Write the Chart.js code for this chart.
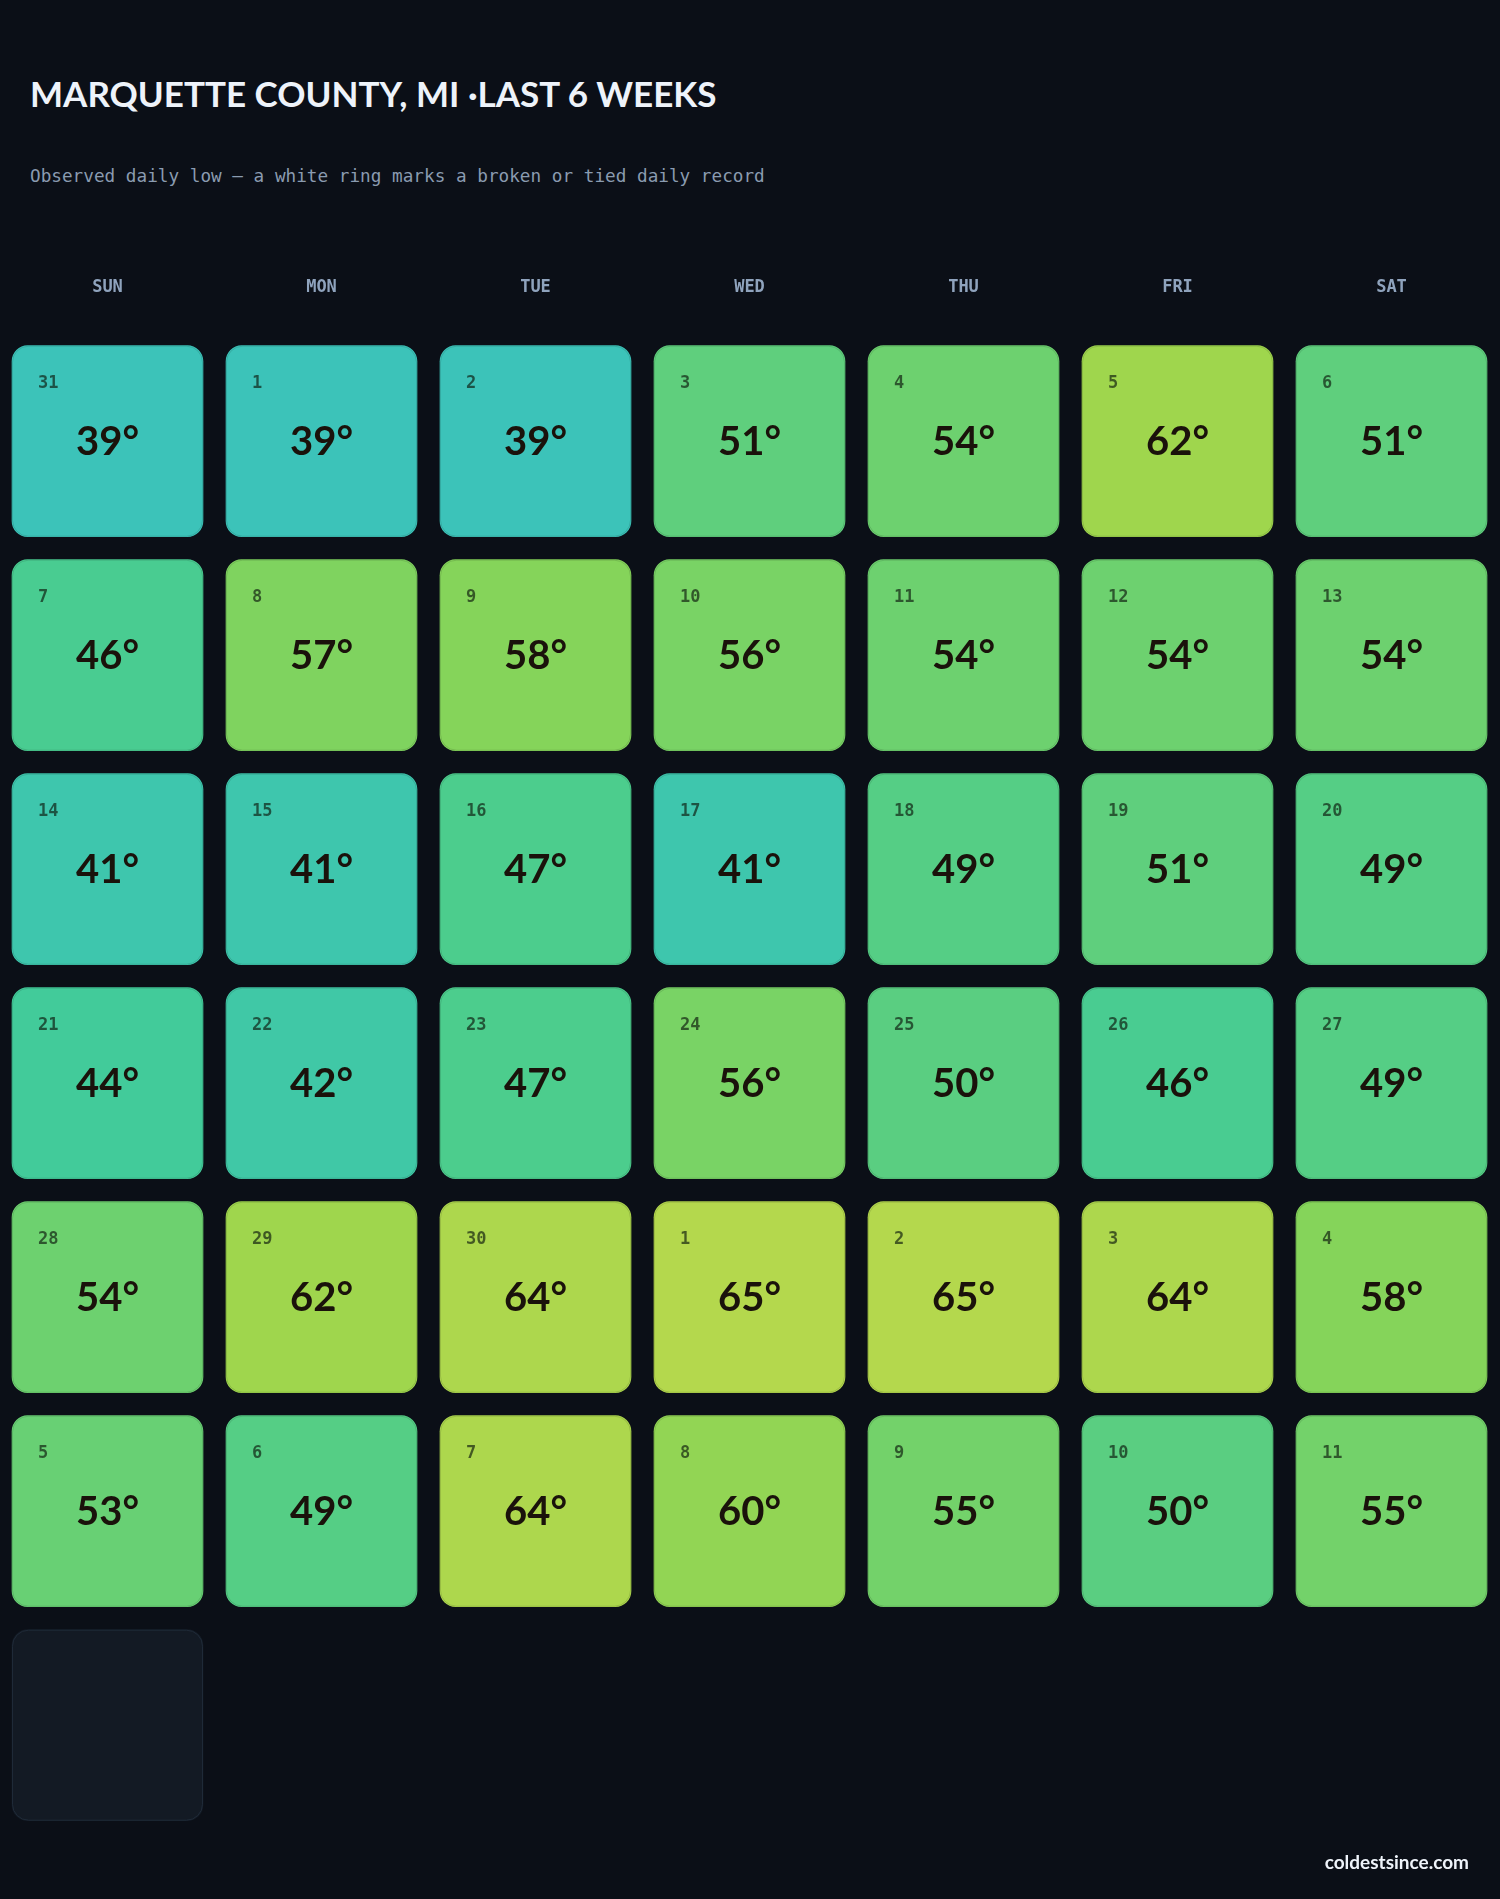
<!DOCTYPE html>
<html>
<head>
<meta charset="utf-8">
<title>Marquette County daily lows</title>
<script src="https://cdn.jsdelivr.net/npm/chart.js@4.4.1/dist/chart.umd.min.js"></script>
<style>
  html, body { margin: 0; padding: 0; background: #0b0f17; }
  body { width: 1500px; height: 1899px; position: relative; overflow: hidden; }
  #calendar { position: absolute; left: 0; top: 0; }
  .title {
    position: absolute; left: 30px; top: 76px;
    font: 700 35px Lato, sans-serif; line-height: 1;
    color: #eef3fa; white-space: nowrap;
  }
  .subtitle {
    position: absolute; left: 30px; top: 168px;
    font: 17.7px "DejaVu Sans Mono", monospace; line-height: 1;
    color: #8a9bb0; white-space: nowrap;
  }
  .footer {
    position: absolute; right: 31px; top: 1852px;
    font: 700 19px Lato, sans-serif; line-height: 1;
    color: #eef3fa; white-space: nowrap;
  }
</style>
</head>
<body>
<div class="title">MARQUETTE COUNTY, MI ·LAST 6 WEEKS</div>
<div class="subtitle">Observed daily low — a white ring marks a broken or tied daily record</div>
<canvas id="calendar" width="1500" height="1899"></canvas>
<div class="footer">coldestsince.com</div>

<script>
document.addEventListener('DOMContentLoaded', function () {
    const dayLabels = ['SUN', 'MON', 'TUE', 'WED', 'THU', 'FRI', 'SAT'];

    // one row per week, date of month
    const dayNumbers = [
        [31, 1, 2, 3, 4, 5, 6],
        [7, 8, 9, 10, 11, 12, 13],
        [14, 15, 16, 17, 18, 19, 20],
        [21, 22, 23, 24, 25, 26, 27],
        [28, 29, 30, 1, 2, 3, 4],
        [5, 6, 7, 8, 9, 10, 11]
    ];

    // observed daily low, °F
    const lowTemps = [
        [39, 39, 39, 51, 54, 62, 51],
        [46, 57, 58, 56, 54, 54, 54],
        [41, 41, 47, 41, 49, 51, 49],
        [44, 42, 47, 56, 50, 46, 49],
        [54, 62, 64, 65, 65, 64, 58],
        [53, 49, 64, 60, 55, 50, 55]
    ];

    // days with no observation yet (next row)
    const pendingDays = ['SUN'];

    // colour ramp
    const rampTemps = [39, 44, 47, 50, 54, 58, 62, 65];
    const rampColors = ['#3cc3b9', '#42cb9a', '#4ccd8d', '#5ace81', '#6dd16f', '#85d45a', '#9fd64d', '#b4d84d'];

    function hexToRgb(h) {
        return [1, 3, 5].map(i => parseInt(h.substr(i, 2), 16));
    }

    function tempColor(t) {
        if (t <= rampTemps[0]) return rampColors[0];
        for (let i = 1; i < rampTemps.length; i++) {
            if (t <= rampTemps[i]) {
                const f = (t - rampTemps[i - 1]) / (rampTemps[i] - rampTemps[i - 1]);
                const a = hexToRgb(rampColors[i - 1]);
                const b = hexToRgb(rampColors[i]);
                const c = a.map((v, k) => Math.round(v + (b[k] - v) * f));
                return `rgb(${c[0]}, ${c[1]}, ${c[2]})`;
            }
        }
        return rampColors[rampColors.length - 1];
    }

    const gap = 11.5;
    const cornerRadius = 16;

    const datasets = lowTemps.map(function (temps, w) {
        return {
            label: 'Week ' + (w + 1),
            data: temps.map((t, d) => ({ x: dayLabels[d], y: [w, w + 1], temp: t, day: dayNumbers[w][d] })),
            backgroundColor: temps.map(tempColor)
        };
    });
    datasets.push({
        label: 'Pending',
        pending: true,
        data: pendingDays.map(d => ({ x: d, y: [lowTemps.length, lowTemps.length + 1] })),
        backgroundColor: '#131a24'
    });

    const cellLabels = {
        id: 'cellLabels',
        afterDatasetsDraw(chart) {
            const ctx = chart.ctx;
            chart.data.datasets.forEach(function (ds, di) {
                const meta = chart.getDatasetMeta(di);
                meta.data.forEach(function (bar, i) {
                    const p = bar.getProps(['x', 'y', 'base', 'width'], true);
                    const left = p.x - p.width / 2 + gap;
                    const top = Math.min(p.y, p.base) + gap;
                    const w = p.width - gap * 2;
                    const h = Math.abs(p.base - p.y) - gap * 2;

                    ctx.save();
                    ctx.beginPath();
                    ctx.roundRect(left + 0.5, top + 0.5, w - 1, h - 1, cornerRadius);
                    ctx.lineWidth = 1;
                    ctx.strokeStyle = ds.pending ? '#1f2a38' : 'rgba(0, 0, 0, 0.12)';
                    ctx.stroke();

                    if (!ds.pending) {
                        const item = ds.data[i];
                        ctx.textAlign = 'left';
                        ctx.textBaseline = 'alphabetic';
                        ctx.fillStyle = 'rgba(12, 24, 12, 0.66)';
                        ctx.font = 'bold 17px "DejaVu Sans Mono"';
                        ctx.fillText(String(item.day), left + 26, top + 42);

                        ctx.textAlign = 'center';
                        ctx.fillStyle = '#1a120b';
                        ctx.font = '700 40px Lato';
                        ctx.fillText(item.temp + '°', p.x, top + h / 2 + 14);
                    }
                    ctx.restore();
                });
            });
        }
    };

    new Chart(document.getElementById('calendar').getContext('2d'), {
        type: 'bar',
        data: {
            labels: dayLabels,
            datasets: datasets
        },
        options: {
            responsive: false,
            animation: false,
            layout: {
                padding: { left: 0.5, right: 1.5, top: 240.4, bottom: 66.8 }
            },
            datasets: {
                bar: {
                    grouped: false,
                    barPercentage: 1,
                    categoryPercentage: 1,
                    borderWidth: gap,
                    borderColor: 'rgba(0, 0, 0, 0)',
                    borderSkipped: false,
                    borderRadius: gap + cornerRadius
                }
            },
            scales: {
                x: {
                    position: 'top',
                    grid: { display: false, drawTicks: false },
                    border: { display: false },
                    ticks: {
                        color: '#8fa3bd',
                        padding: 36.7,
                        font: { family: 'DejaVu Sans Mono', size: 17, weight: 'bold' }
                    }
                },
                y: {
                    display: false,
                    min: 0,
                    max: lowTemps.length + 1,
                    reverse: true
                }
            },
            plugins: {
                legend: { display: false },
                tooltip: { enabled: false }
            }
        },
        plugins: [cellLabels]
    });
});
</script>
</body>
</html>
